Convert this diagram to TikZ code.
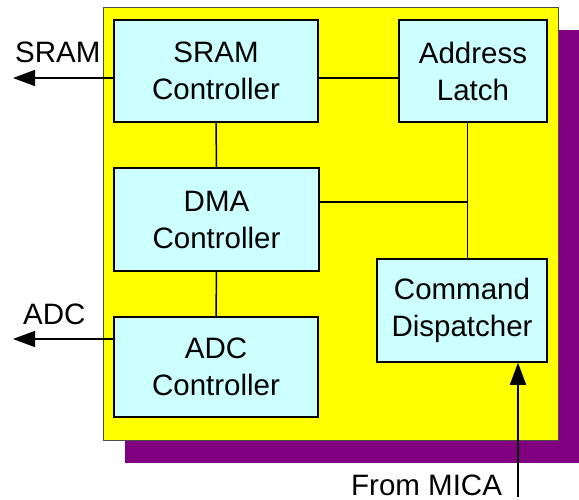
\documentclass[tikz,border=0pt]{standalone}
\usepackage{fontspec}
\setmainfont{Liberation Sans}
\usetikzlibrary{arrows.meta}
\definecolor{chipyellow}{HTML}{FFFF00}
\definecolor{chipshadow}{HTML}{800080}
\definecolor{blockcyan}{HTML}{CCFFFF}
\begin{document}
\begin{tikzpicture}[x=1pt,y=-1pt,
  block/.style={draw=black,line width=1.5pt,fill=blockcyan,rectangle,
    inner sep=0pt,align=center,font=\fontsize{29.5}{37}\selectfont},
  wire/.style={draw=black,line width=1.5pt},
  port/.style={draw=black,line width=1.5pt,-{Triangle[length=22pt,width=16pt]}},
  lbl/.style={font=\fontsize{29.5}{37}\selectfont,inner sep=0pt}]
\useasboundingbox (0,0) rectangle (579,500);
% chip outline with drop shadow
\fill[chipshadow] (125,30) rectangle (579,463);
\filldraw[fill=chipyellow,draw=black!70,line width=1pt] (103,8) rectangle (558,440);
% functional blocks
\node[block,minimum width=204pt,minimum height=102pt] (sram) at (216,71) {SRAM\\Controller};
\node[block,minimum width=148pt,minimum height=102pt] (addr) at (473,71) {Address\\Latch};
\node[block,minimum width=205pt,minimum height=103pt] (dma) at (216.5,219.5) {DMA\\Controller};
\node[block,minimum width=170pt,minimum height=103pt] (cmd) at (462,310.5) {Command\\Dispatcher};
\node[block,minimum width=204pt,minimum height=100pt] (adc) at (216,367) {ADC\\Controller};
% internal bus
\coordinate (bus) at (467.5,202);
\draw[wire] (sram.east |- 0,78) -- (addr.west |- 0,78);
\draw[wire] (sram.south) -- (dma.north);
\draw[wire] (dma.south) -- (adc.north);
\draw[wire] (addr.south -| bus) -- (cmd.north -| bus);
\draw[wire] (dma.east |- bus) -- (bus);
% external ports
\coordinate (sramout) at (13,78);
\coordinate (adcout) at (13,339);
\coordinate (mica) at (518,497);
\draw[port] (sram.west |- sramout) -- (sramout);
\draw[port] (adc.west |- adcout) -- (adcout);
\draw[port] (mica) -- (cmd.south -| mica);
\node[lbl,anchor=base west] (sramlbl) at (15,63) {SRAM};
\node[lbl,anchor=base west] (adclbl) at (23,324) {ADC};
\node[lbl,anchor=base west] (micalbl) at (351,495) {From MICA};
\end{tikzpicture}
\end{document}
